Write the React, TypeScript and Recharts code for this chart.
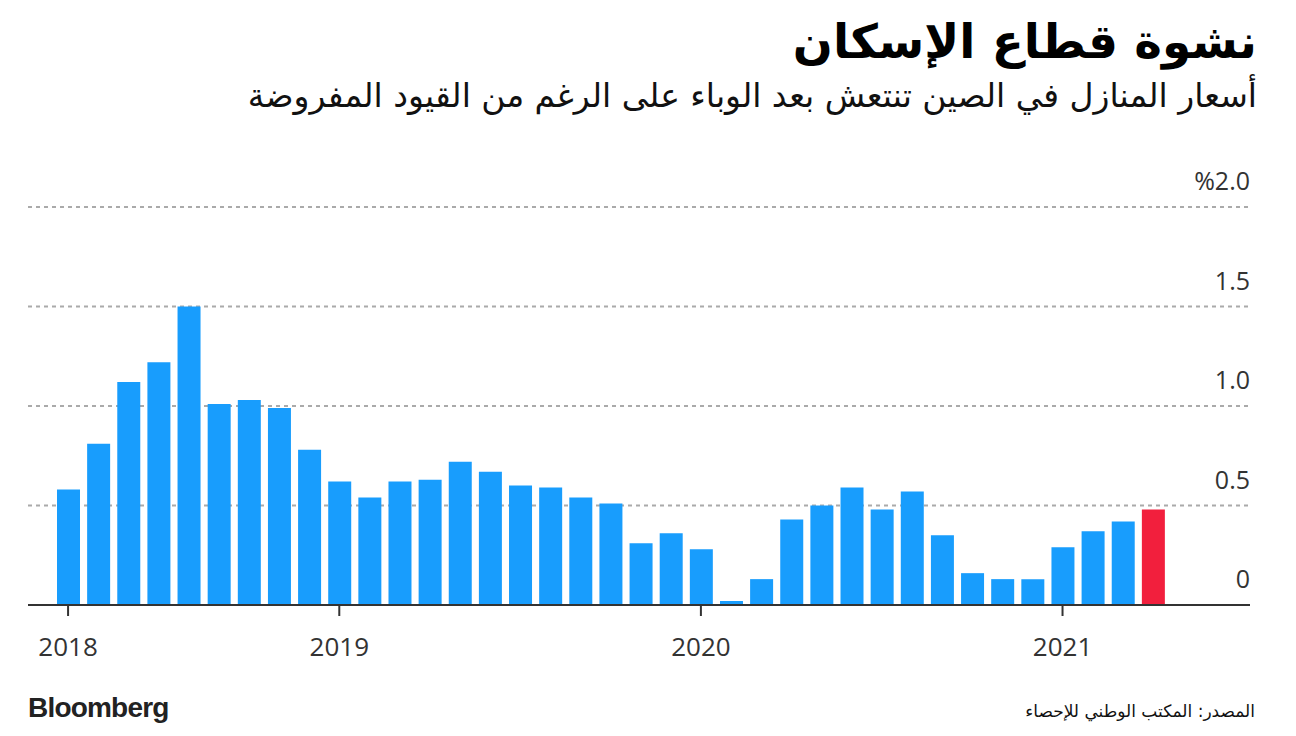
import { BarChart, Bar, XAxis, YAxis, CartesianGrid, Cell } from 'recharts';

// Monthly change in new home prices, Apr 2018 - Apr 2021
const months = [
  '2018-04', '2018-05', '2018-06', '2018-07', '2018-08', '2018-09', '2018-10', '2018-11', '2018-12',
  '2019-01', '2019-02', '2019-03', '2019-04', '2019-05', '2019-06', '2019-07', '2019-08', '2019-09',
  '2019-10', '2019-11', '2019-12',
  '2020-01', '2020-02', '2020-03', '2020-04', '2020-05', '2020-06', '2020-07', '2020-08', '2020-09',
  '2020-10', '2020-11', '2020-12',
  '2021-01', '2021-02', '2021-03', '2021-04',
];

const changes = [
  0.58, 0.81, 1.12, 1.22, 1.5, 1.01, 1.03, 0.99, 0.78,
  0.62, 0.54, 0.62, 0.63, 0.72, 0.67, 0.6, 0.59, 0.54, 0.51, 0.31, 0.36,
  0.28, 0.02, 0.13, 0.43, 0.5, 0.59, 0.48, 0.57, 0.35, 0.16, 0.13, 0.13,
  0.29, 0.37, 0.42, 0.48,
];

const yearTicks = ['2018-04', '2019-01', '2020-01', '2021-01'];
const yTicks = [0, 0.5, 1, 1.5, 2];
const yTickLabels = ['0', '0.5', '1.0', '1.5', '%2.0'];

const data = months.map((month, i) => ({ month, value: changes[i] }));

const BLUE = '#189dfd';
const RED = '#f21f3d';
const arabicFont = '"DejaVu Sans", sans-serif';
const numberFont = '"Open Sans", "Noto Sans", sans-serif';
const PLOT_RIGHT = 1250;

// Y labels sit above their gridline, right-aligned to the plot edge
const renderYTick = (props: any) => {
  const { y, payload } = props;
  const idx = yTicks.indexOf(payload.value);
  return (
    <text x={PLOT_RIGHT} y={y - 17} textAnchor="end" fill="#333" fontSize={25} fontFamily={numberFont}>
      {yTickLabels[idx]}
    </text>
  );
};

export default function App() {
  return (
    <div style={{ position: 'absolute', left: 0, top: 0, width: 1296, height: 736, background: '#fff' }}>
      <div
        style={{
          position: 'absolute', right: 39, top: 14, direction: 'rtl',
          fontFamily: arabicFont, fontWeight: 'bold', fontSize: 47, color: '#000', whiteSpace: 'nowrap',
        }}
      >
        نشوة قطاع الإسكان
      </div>
      <div
        style={{
          position: 'absolute', right: 39, top: 76, direction: 'rtl',
          fontFamily: arabicFont, fontSize: 33, color: '#111', whiteSpace: 'nowrap',
        }}
      >
        أسعار المنازل في الصين تنتعش بعد الوباء على الرغم من القيود المفروضة
      </div>

      <div style={{ position: 'absolute', left: 0, top: 0 }}>
        <BarChart
          width={1296}
          height={736}
          data={data}
          margin={{ top: 207, right: 0, left: 28, bottom: 81 }}
        >
          <CartesianGrid
            vertical={false}
            stroke="#aaaaaa"
            strokeWidth={2}
            strokeDasharray="4 4"
          />
          <XAxis
            dataKey="month"
            ticks={yearTicks}
            interval={0}
            tickFormatter={(m: string) => m.slice(0, 4)}
            padding={{ left: 25, right: 82 }}
            height={50}
            axisLine={{ stroke: '#333', strokeWidth: 2 }}
            tickLine={{ stroke: '#333', strokeWidth: 2 }}
            tickSize={11}
            tick={{ fill: '#333', fontSize: 26, fontFamily: numberFont, dy: 20 }}
          />
          <YAxis
            orientation="right"
            width={46}
            domain={[0, 2]}
            ticks={yTicks}
            axisLine={false}
            tickLine={false}
            tick={renderYTick}
          />
          <Bar dataKey="value" barSize={23} isAnimationActive={false}>
            {data.map((d, i) => (
              <Cell key={d.month} fill={i === data.length - 1 ? RED : BLUE} />
            ))}
          </Bar>
        </BarChart>
      </div>

      <div
        style={{
          position: 'absolute', left: 28, top: 692, fontFamily: '"Liberation Sans", Arial, sans-serif',
          fontWeight: 'bold', fontSize: 28, letterSpacing: -0.8, color: '#222',
        }}
      >
        Bloomberg
      </div>
      <div
        style={{
          position: 'absolute', right: 41, top: 701, direction: 'rtl',
          fontFamily: arabicFont, fontSize: 17, color: '#111', whiteSpace: 'nowrap',
        }}
      >
        المصدر: المكتب الوطني للإحصاء
      </div>
    </div>
  );
}
